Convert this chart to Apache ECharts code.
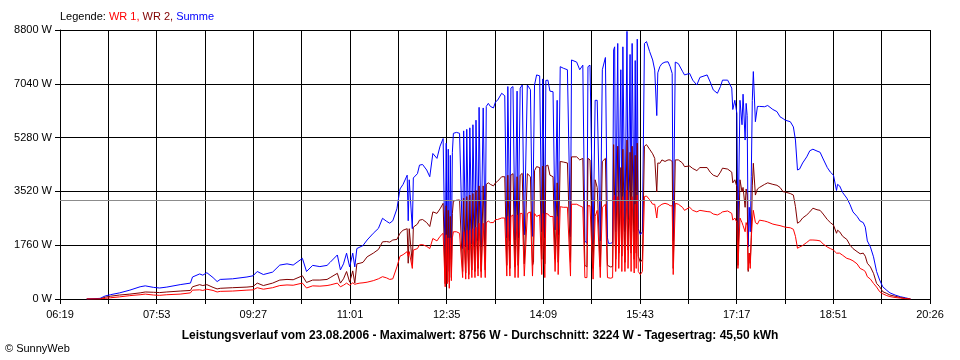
<!DOCTYPE html>
<html><head><meta charset="utf-8">
<script src="https://cdn.jsdelivr.net/npm/echarts@6/dist/echarts.min.js"></script>
<style>html,body{margin:0;padding:0;background:#fff}#c{width:960px;height:360px}</style>
</head><body><div id="c"></div>
<script>
// time axis: minutes after 06:19 (axis runs 06:19 .. 20:26)
const axisEndMinutes = 847;
const tickLabels = ['06:19','07:53','09:27','11:01','12:35','14:09','15:43','17:17','18:51','20:26'];
const yMax = 8800;
const yStep = 1760;
const averageW = 3224;
const footerText = 'Leistungsverlauf vom 23.08.2006 - Maximalwert: 8756 W - Durchschnitt: 3224 W - Tagesertrag: 45,50 kWh';

const minutes = [
26,39,44,49,58,68,78,83,91,97,
104,117,127,129,136,139,143,149,153,156,
168,182,188,192,198,207,214,221,227,236,
240,246,253,260,263,270,273,276,279,282,
285,287,289,292,295,299,305,310,314,318,
321,324,328,331,334,338,339,340,343,344,
348,350,353,357,360,363,367,370,373,375,
376,377,378,379,380,381,382,383,386,389,
392,393,395,396,398,399,401,402,404,405,
407,408,410,412,414,415,417,419,422,424,
426,430,433,435,436,438,439,441,443,445,
446,448,450,452,455,458,460,461,462,464,
467,469,470,472,473,475,477,480,482,484,
485,487,490,494,497,498,503,506,509,511,
513,514,516,519,521,523,526,528,531,533,
534,536,538,539,540,541,543,544,546,547,
548,550,552,553,555,556,557,559,560,561,
562,563,565,567,569,571,574,577,579,581,
582,584,586,589,592,594,596,597,599,602,
606,608,613,616,620,623,630,633,636,640,
643,645,650,654,655,657,659,660,662,664,
665,667,668,669,670,671,672,673,674,675,
677,679,681,686,689,694,698,701,704,706,
711,714,716,718,720,723,727,730,733,737,
740,743,747,750,753,756,757,759,762,766,
769,772,776,779,782,784,786,789,792,795,
798,801,805,808,813,818,823,828];

const wr1 = [
0,0,20,40,70,110,140,160,130,120,
140,160,200,290,300,280,320,280,230,250,
260,290,300,370,320,370,440,460,450,520,
360,430,420,440,460,520,400,450,520,450,
530,480,500,520,530,550,600,660,730,690,
640,660,1050,1400,1450,1550,1400,1550,1000,1600,
1650,1770,1780,1720,1650,1980,1900,2050,2150,400,
2100,500,2000,350,2000,600,2000,2200,2200,2150,
700,2200,650,2250,650,2250,700,2300,700,2350,
750,2480,700,2480,700,2500,2550,2500,2500,2600,
2600,2650,2650,750,2700,750,2700,2750,700,2750,
700,2800,2800,750,2800,2850,750,750,2800,2700,
2750,800,2800,700,2800,2780,2700,2700,900,2700,
800,3020,3000,3000,750,3100,3100,3050,3000,700,
700,3050,3050,650,2700,2900,700,3000,3100,700,
680,680,700,3300,3400,900,3350,1000,3200,900,
3350,900,3550,1000,3200,900,3350,850,3100,1000,
3400,900,800,900,3350,3370,3250,3100,3100,2650,
3000,3050,3100,3130,3100,3050,3050,800,3130,3100,
3000,2900,3000,2900,2850,2900,2860,2850,2780,2750,
2800,2850,2880,2800,2580,2650,2500,1000,2650,2500,
2400,2200,2500,2400,950,1500,1000,2000,2550,2900,
2500,2450,2580,2550,2520,2450,2420,2400,2370,2350,
2330,2280,2050,1660,1700,1750,1850,1930,1930,1920,
1900,1800,1700,1650,1600,1500,1540,1500,1430,1330,
1300,1250,1150,1000,950,900,730,650,510,390,
240,170,110,80,50,30,10,0];

const wr2 = [
0,0,60,90,130,160,200,230,220,210,
230,260,280,400,470,440,470,380,330,350,
370,390,410,520,440,520,620,640,630,760,
540,620,620,640,700,840,520,660,900,550,
920,520,1150,1170,1200,1380,1500,1620,1870,1880,
1860,1930,1950,2150,2250,2300,1170,2300,1150,2350,
2450,2580,2600,2500,2370,2850,2800,2950,3130,500,
3050,600,2900,550,2700,700,2800,3200,3230,3240,
900,3300,850,3350,800,3400,950,3450,900,3550,
1000,3700,900,3700,950,3750,3800,3750,3700,3800,
3850,4000,4000,1100,4050,1000,4050,4100,1050,4000,
1100,4050,4110,1150,4100,4000,1100,1200,4200,4330,
4300,1300,4350,1150,4350,4380,4050,4000,1300,3800,
1200,4500,4480,4450,1200,4650,4650,4550,4600,1100,
1050,4600,4550,1000,3900,3650,1050,4500,4600,1100,
1050,1050,1060,5050,5100,1300,5000,1500,4300,1400,
4900,1200,5200,1600,4800,1500,5000,1300,4700,1500,
5100,1400,1200,1300,5000,5050,4900,4750,4600,3500,
4450,4440,4550,4500,4550,4550,4500,1000,4550,4550,
4450,4330,4350,4270,4200,4300,4300,4150,4050,4000,
4150,4280,4250,4150,3800,3900,3670,1100,3900,3500,
3650,3000,3600,3400,900,1500,1170,2000,3700,4440,
3400,3600,3650,3750,3800,3750,3720,3650,3510,3500,
3450,3400,3020,2480,2520,2650,2750,2850,2970,2920,
2900,2780,2600,2500,2420,2150,2250,2200,2050,1950,
1770,1650,1550,1480,1500,1400,1170,1050,840,510,
400,240,180,130,90,50,20,0];

const summe = [
0,20,100,140,200,290,400,430,380,360,
390,470,520,720,820,780,860,700,570,640,
660,720,760,900,800,880,1110,1150,1110,1330,
900,1100,1060,1100,1200,1440,950,1150,1500,1050,
1500,1050,1650,1700,1750,1930,2150,2310,2640,2540,
2480,2560,2950,3600,3750,4050,2560,3900,2300,3960,
4100,4380,4400,4220,4000,4760,4600,5000,5250,1000,
5100,1100,4900,900,4700,1300,4800,5420,5450,5420,
1650,5500,1700,5550,1600,5600,1800,5700,1700,5850,
1900,6270,1700,6250,1750,6300,6400,6300,6250,6450,
6500,6730,6650,2000,6950,1900,6900,6950,1930,6800,
2000,6900,7000,2100,7000,6850,2050,2100,7000,7330,
7300,2200,7200,2000,7150,7160,6800,6780,2260,6500,
2100,7600,7550,7500,2040,7820,7750,7500,7650,1900,
1820,7600,7650,1800,6500,6500,1900,7500,7900,2000,
1820,1820,1850,8150,8250,2200,8360,2500,7500,2400,
8250,2200,8756,2600,8000,2400,8360,2200,7800,2500,
8500,2300,2100,2200,8360,8420,8100,7820,7490,6000,
7400,7600,7700,7750,7760,7600,7380,1900,7750,7700,
7450,7330,7380,7160,7000,7250,7330,7100,6840,6730,
6950,7160,7160,6900,6200,6500,6070,1900,6500,5700,
6700,5200,6400,6000,1700,3000,2200,4000,6500,7440,
5800,6300,6300,6290,6330,6200,6130,5960,5900,5850,
5800,5630,5200,4220,4250,4450,4650,4850,4900,4840,
4800,4580,4300,4150,4050,3550,3750,3700,3480,3300,
3100,2850,2700,2550,2500,2350,1900,1700,1380,900,
620,400,280,200,130,76,40,0];

const FONT = '"Liberation Sans", Arial, sans-serif';
const gridCount = (tickLabels.length - 1) * 2;
const xStep = axisEndMinutes / gridCount;

const chart = echarts.init(document.getElementById('c'), null, {renderer: 'canvas'});
const pairs = arr => minutes.map((m, i) => [m, arr[i]]);
const lineSeries = (name, color, arr, extra) => Object.assign({
  name, type: 'line', data: pairs(arr), symbol: 'none', showSymbol: false,
  lineStyle: {color, width: 1}, itemStyle: {color}, silent: true, animation: false
}, extra || {});

chart.setOption({
  animation: false,
  backgroundColor: '#ffffff',
  textStyle: {fontFamily: FONT},
  title: [
    {left: 60, top: 11, padding: 0,
     text: '{k|Legende: }{a|WR 1, }{b|WR 2, }{c|Summe}',
     textStyle: {fontSize: 11, fontWeight: 'normal', fontFamily: FONT, rich: {
       k: {color: '#000000', fontSize: 11, fontFamily: FONT},
       a: {color: '#ff0000', fontSize: 11, fontFamily: FONT},
       b: {color: '#800000', fontSize: 11, fontFamily: FONT},
       c: {color: '#0000ff', fontSize: 11, fontFamily: FONT}}}},
    {left: 'center', top: 330, padding: 0, text: footerText,
     textStyle: {fontSize: 12, fontWeight: 'bold', color: '#000', fontFamily: FONT}},
    {left: 5, top: 343, padding: 0, text: '© SunnyWeb',
     textStyle: {fontSize: 11, fontWeight: 'normal', color: '#000', fontFamily: FONT}}
  ],
  grid: {left: 60, right: 30, top: 30, bottom: 61},
  xAxis: {
    type: 'value', min: 0, max: axisEndMinutes, interval: xStep,
    axisLine: {show: true, lineStyle: {color: '#000', width: 1}},
    axisTick: {show: true, length: 5, lineStyle: {color: '#000'}},
    axisLabel: {color: '#000', fontSize: 11, margin: 10, fontFamily: FONT,
      showMinLabel: true, showMaxLabel: true,
      formatter: v => { const k = Math.round(v / xStep); return k % 2 ? '' : tickLabels[k / 2]; }},
    splitLine: {show: true, lineStyle: {color: '#000', width: 1}}
  },
  yAxis: {
    type: 'value', min: 0, max: yMax, interval: yStep,
    axisLine: {show: true, lineStyle: {color: '#000', width: 1}},
    axisTick: {show: true, length: 5, lineStyle: {color: '#000'}},
    axisLabel: {color: '#000', fontSize: 11, margin: 8, fontFamily: FONT, formatter: v => v + ' W'},
    splitLine: {show: true, lineStyle: {color: '#000', width: 1}}
  },
  series: [
    lineSeries('Summe', '#0000ff', summe, {
      markLine: {silent: true, symbol: 'none', label: {show: false}, animation: false,
        lineStyle: {color: '#8c8c8c', type: 'solid', width: 1},
        data: [{yAxis: averageW}]}
    }),
    lineSeries('WR 2', '#800000', wr2),
    lineSeries('WR 1', '#ff0000', wr1)
  ]
});
</script>
</body></html>
